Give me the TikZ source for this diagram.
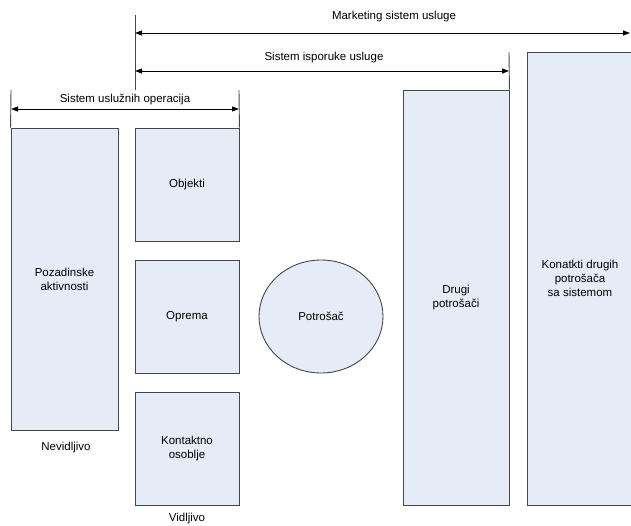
\documentclass[tikz,border=0pt]{standalone}
\usepackage{fontspec}
\setmainfont{Liberation Sans}
\usetikzlibrary{arrows.meta,shapes.geometric}
\definecolor{bxfill}{RGB}{230,236,247}
\definecolor{bxline}{RGB}{70,70,70}
\tikzset{
  >={Triangle[length=7pt,width=5pt]},
  bx/.style={rectangle,draw=bxline,fill=bxfill,inner sep=0pt,align=center,font=\fontsize{11.5}{13.8}\selectfont},
  ov/.style={ellipse,draw=bxline,fill=bxfill,inner sep=0pt,font=\fontsize{11.5}{13.8}\selectfont},
  lb/.style={inner sep=0pt,font=\fontsize{11.5}{13.8}\selectfont},
  dm/.style={<->,black},
  tk/.style={draw=bxline},
  every picture/.style={line width=0.9pt},
}

\begin{document}
\begin{tikzpicture}[x=1pt,y=-1pt]
\useasboundingbox (0,0) rectangle (631,525);
% boxes
\node[bx,minimum width=107pt,minimum height=302pt] (poz) at (64.5,279){Pozadinske\\aktivnosti};
\node[bx,minimum width=104pt,minimum height=113pt] (obj) at (187,184.5){Objekti};
\node[bx,minimum width=104pt,minimum height=113pt] (opr) at (187,316.5){Oprema};
\node[bx,minimum width=104pt,minimum height=113pt] (kon) at (187,448.5){Kontaktno\\osoblje};
\node[ov,minimum width=124pt,minimum height=113pt] (pot) at (321,316.5){Potrošač};
\node[bx,minimum width=106pt,minimum height=415pt] (dru) at (456,297.5){Drugi\\potrošači};
\node[bx,minimum width=106pt,minimum height=453pt] (kdp) at (580,278.5){Konatkti drugih\\potrošača\\sa sistemom};
% labels
\node[lb] (mkt) at (394,17){Marketing sistem usluge};
\node[lb] (isp) at (324,58){Sistem isporuke usluge};
\node[lb] (uso) at (125,100){Sistem uslužnih operacija};
\node[lb] (nev) at (66,448){Nevidljivo};
\node[lb] (vid) at (187,519){Vidljivo};
% ticks and dimension arrows
\coordinate (t0) at (135,15); \coordinate (t1) at (135,90); \coordinate (t2) at (509,52);
\coordinate (t3) at (11,90); \coordinate (t4) at (239,90);
\draw[tk] (t0)--(t1); \draw[tk] (t2)--(dru.north east);
\draw[tk] (t3)--(poz.north west); \draw[tk] (t4)--(obj.north east);
\coordinate (ma) at (135,33); \coordinate (mb) at (630,33);
\coordinate (ia) at (135,71); \coordinate (ib) at (509,71);
\coordinate (ua) at (11,109); \coordinate (ub) at (239,109);
\draw[dm] (ma)--(mb); \draw[dm] (ia)--(ib); \draw[dm] (ua)--(ub);
\end{tikzpicture}
\end{document}
